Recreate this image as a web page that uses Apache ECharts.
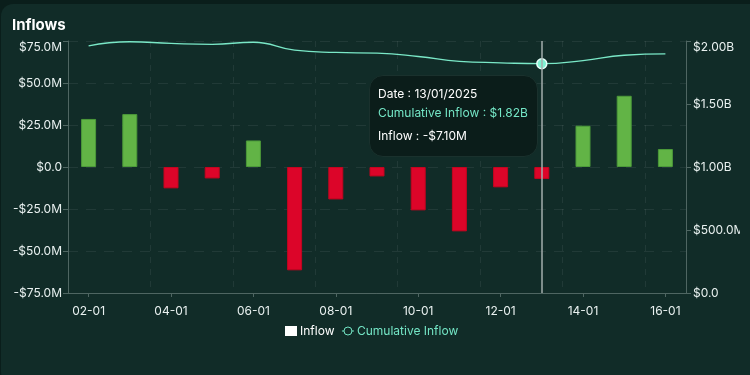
<!DOCTYPE html>
<html>
<head>
<meta charset="utf-8">
<script src="https://cdn.jsdelivr.net/npm/echarts@6/dist/echarts.min.js"></script>
<style>
html,body{margin:0;padding:0;background:#0a1e1b;width:750px;height:375px;overflow:hidden;position:relative;}
#card{position:absolute;left:1px;top:4px;width:760px;height:380px;border-radius:12px;background:#112c28;}
#clip{position:absolute;left:0;top:0;width:740px;height:375px;overflow:hidden;}
#chart{width:750px;height:375px;}
</style>
</head>
<body>
<div id="card"></div>
<div id="clip"><div id="chart"></div></div>
<script>
// Data
var dates = ['02-01','03-01','04-01','05-01','06-01','07-01','08-01','09-01','10-01','11-01','12-01','13-01','14-01','15-01','16-01'];
var fullDates = ['02/01/2025','03/01/2025','04/01/2025','05/01/2025','06/01/2025','07/01/2025','08/01/2025','09/01/2025','10/01/2025','11/01/2025','12/01/2025','13/01/2025','14/01/2025','15/01/2025','16/01/2025'];
// Inflow in millions of dollars
var inflowM = [28.6, 31.5, -12.7, -6.8, 15.8, -61.5, -19.3, -5.6, -25.8, -38.3, -12.1, -7.1, 24.6, 42.4, 10.7];
// Cumulative inflow in billions of dollars
var cumulativeB = [1.962, 1.994, 1.981, 1.974, 1.990, 1.928, 1.909, 1.903, 1.877, 1.839, 1.827, 1.8198, 1.845, 1.887, 1.898];
var leftTicks = {min: -75, max: 75, interval: 25};
var rightTicks = {min: 0, max: 2, interval: 0.5};

var FONT = 'Inter, "Noto Sans", sans-serif';
var TXT = '#e9f1f0';
var TEAL = '#74e6c6';
var GREEN = '#62b446';
var RED = '#dc0529';

function fmtM(v, d){
  if (v === 0) return '$0.0';
  var s = v < 0 ? '-$' : '$';
  return s + Math.abs(v).toFixed(d == null ? 1 : d) + 'M';
}
function fmtB(v){
  if (v === 0) return '$0.0';
  var s = v < 0 ? '-$' : '$';
  var a = Math.abs(v);
  if (a >= 1) return s + a.toFixed(2) + 'B';
  return s + (a*1000).toFixed(1) + 'M';
}

var chart = echarts.init(document.getElementById('chart'), null, {renderer:'canvas'});
var option = {
  animation: false,
  backgroundColor: 'transparent',
  textStyle: {fontFamily: FONT},
  title: {
    text: 'Inflows', left: 12, top: 18, padding: 0,
    textStyle: {color: '#ffffff', fontSize: 15, fontWeight: 'bold', fontFamily: FONT}
  },
  legend: {
    bottom: 33, left: 280,
    itemWidth: 12, itemHeight: 10, itemGap: 7,
    textStyle: {fontFamily: FONT, fontSize: 12, padding: [0, 0, 0, -2]},
    data: [
      {name: 'Inflow', icon: 'rect', itemStyle: {color: '#ffffff', borderWidth: 0}, textStyle: {color: '#ffffff'}},
      {name: 'Cumulative Inflow', itemStyle: {color: '#112c28', borderColor: TEAL, borderWidth: 1}, lineStyle: {color: TEAL, width: 1}, textStyle: {color: TEAL}}
    ]
  },
  grid: {left: 68, right: 64, top: 41, bottom: 82},
  tooltip: {
    trigger: 'axis',
    alwaysShowContent: true,
    position: [369, 75],
    backgroundColor: '#0b1d1a',
    borderColor: '#1a312d',
    borderWidth: 1,
    borderRadius: 14,
    padding: [8, 9, 11, 8],
    extraCssText: 'box-shadow:none;',
    axisPointer: {type: 'line', lineStyle: {color: '#a3aeac', width: 1.5, type: 'solid'}},
    formatter: function(params){
      var idx = params[0].dataIndex;
      return '<div style="font-family:Inter,sans-serif;font-size:12px;line-height:19px;">' +
        '<div style="color:#ffffff">Date : ' + fullDates[idx] + '</div>' +
        '<div style="color:' + TEAL + '">Cumulative Inflow : ' + fmtB(cumulativeB[idx]) + '</div>' +
        '<div style="color:#ffffff;margin-top:4px">Inflow : ' + fmtM(inflowM[idx], 2) + '</div>' +
        '</div>';
    }
  },
  xAxis: {
    type: 'category',
    data: dates,
    axisLine: {onZero: false, lineStyle: {color: '#4f6662'}},
    axisTick: {show: true, alignWithLabel: true, interval: 1, length: 4, lineStyle: {color: '#4f6662'}},
    axisLabel: {color: TXT, fontSize: 12, interval: 1, margin: 12, fontFamily: FONT},
    splitLine: {show: true, interval: 1, lineStyle: {color: 'rgba(255,255,255,0.07)', type: [6, 6]}}
  },
  yAxis: [{
    type: 'value',
    min: leftTicks.min, max: leftTicks.max, interval: leftTicks.interval,
    axisLine: {show: true, lineStyle: {color: '#4f6662'}},
    axisTick: {show: true, length: 5, lineStyle: {color: '#4f6662'}},
    axisLabel: {color: TXT, fontSize: 12, margin: 6, fontFamily: FONT, formatter: function(v){return fmtM(v);}, verticalAlignMaxLabel: 'top'},
    splitLine: {show: true, lineStyle: {color: 'rgba(255,255,255,0.07)', type: [10, 8]}}
  }, {
    type: 'value',
    min: rightTicks.min, max: rightTicks.max, interval: rightTicks.interval,
    axisLine: {show: true, lineStyle: {color: '#4f6662'}},
    axisTick: {show: true, length: 5, lineStyle: {color: '#4f6662'}},
    axisLabel: {color: TXT, fontSize: 12, margin: 7, fontFamily: FONT, formatter: fmtB, verticalAlignMaxLabel: 'top'},
    splitLine: {show: false}
  }],
  series: [{
    name: 'Inflow',
    type: 'bar',
    yAxisIndex: 0,
    barWidth: 15,
    data: inflowM.map(function(v){
      return {value: v, itemStyle: v >= 0
        ? {color: GREEN, borderColor: '#4c9a3a', borderWidth: 1}
        : {color: RED, borderColor: '#c4051f', borderWidth: 1}};
    }),
    emphasis: {disabled: true}
  }, {
    name: 'Cumulative Inflow',
    type: 'line',
    yAxisIndex: 1,
    smooth: true,
    showSymbol: false,
    symbol: 'circle',
    symbolSize: 9,
    data: cumulativeB,
    lineStyle: {color: '#6fd3b5', width: 1.3},
    itemStyle: {color: '#7ff2d2', borderColor: '#e8fffa', borderWidth: 1.5}
  }]
};
chart.setOption(option);
chart.dispatchAction({type: 'showTip', seriesIndex: 1, dataIndex: 11});
</script>
</body>
</html>
